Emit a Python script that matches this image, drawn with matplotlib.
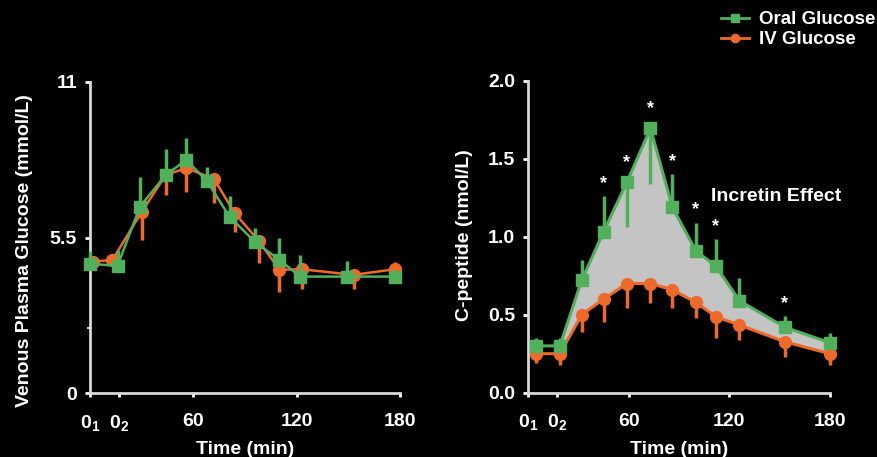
import matplotlib
matplotlib.use("Agg")
import matplotlib.pyplot as plt
import numpy as np
from matplotlib.lines import Line2D

plt.rcParams['font.family'] = ['Liberation Sans', 'DejaVu Sans']
plt.rcParams['font.weight'] = 'bold'
plt.rcParams['mathtext.fontset'] = 'custom'
plt.rcParams['mathtext.rm'] = 'Liberation Sans:bold'
plt.rcParams['mathtext.bf'] = 'Liberation Sans:bold'

GREEN = "#52b05c"
ORANGE = "#ee6a2a"
FILL = "#c4c4c4"
AXC = "#d8d8d8"

# x tick positions / labels (0_1 and 0_2 are the two fasting samples)
tick_pos = [0, 17, 60, 120, 180]
tick_lab = [r'$0_1$', r'$0_2$', '60', '120', '180']

# --- left panel: venous plasma glucose (mmol/L)
t_glu_oral = [0, 16, 29, 44, 56, 68, 81, 96, 110, 122, 149, 177]
glu_oral = [4.57, 4.50, 6.59, 7.71, 8.24, 7.48, 6.24, 5.33, 4.71, 4.12, 4.12, 4.12]
glu_oral_up = [0.47, 0.56, 1.04, 0.92, 0.79, 0.51, 0.71, 0.52, 0.77, 0.77, 0.56, 0.20]
t_glu_iv = [2, 13, 30, 44, 56, 72, 84, 98, 110, 123, 153, 177]
glu_iv = [4.65, 4.71, 6.40, 7.71, 7.95, 7.57, 6.36, 5.38, 4.36, 4.38, 4.18, 4.38]
glu_iv_lo = [0.20, 0.20, 0.98, 0.71, 0.86, 0.84, 0.65, 0.79, 0.79, 0.71, 0.51, 0.10]
glu_iv_up = [0, 0, 0, 0, 0, 0, 0, 0, 0, 0, 0, 0.27]

# --- right panel: C-peptide (nmol/L)
t_cp = [5, 19, 32, 45, 59, 73, 86, 100, 112, 126, 153, 180]
cp_oral = [0.30, 0.30, 0.72, 1.03, 1.35, 1.695, 1.19, 0.91, 0.81, 0.59, 0.42, 0.32]
cp_oral_up = [0.05, 0.05, 0.13, 0.23, 0, 0, 0.21, 0.18, 0.175, 0.145, 0.07, 0.065]
cp_oral_lo = [0, 0, 0, 0, 0.29, 0.355, 0, 0, 0, 0, 0, 0]
cp_iv = [0.25, 0.25, 0.50, 0.60, 0.70, 0.70, 0.66, 0.58, 0.487, 0.434, 0.327, 0.25]
cp_iv_lo = [0.06, 0.07, 0.11, 0.145, 0.16, 0.127, 0.12, 0.103, 0.137, 0.094, 0.097, 0.07]
star_idx = [3, 4, 5, 6, 7, 8, 10]


def style_axes(ax):
    ax.set_facecolor("black")
    for s in ["top", "right"]:
        ax.spines[s].set_visible(False)
    for s in ["left", "bottom"]:
        ax.spines[s].set_color(AXC)
        ax.spines[s].set_linewidth(2)
    ax.tick_params(colors="white", width=2, labelsize=14, direction="out")
    ax.tick_params(axis="x", length=3, pad=11.5)
    ax.tick_params(axis="y", length=3.6, pad=5.8)
    ax.tick_params(axis="y", which="minor", width=1.5, length=2.5, color=AXC)
    ax.set_xlim(0, 180)
    ax.set_xticks(tick_pos)
    ax.set_xticklabels(tick_lab)
    for lab in ax.get_xticklabels() + ax.get_yticklabels():
        lab.set_fontweight("bold")
    ax.set_xlabel("Time (min)", color="white", fontsize=14, fontweight="bold", labelpad=5.5)


fig = plt.figure(figsize=(8.77, 4.57), dpi=100, facecolor="black")

# left panel
ax1 = fig.add_axes([90 / 877, 1 - 393.3 / 457, 310 / 877, 311.6 / 457])
style_axes(ax1)
ax1.set_ylim(0, 11)
ax1.set_yticks([0, 5.5, 11])
ax1.set_yticklabels(["0", "5.5", "11"])
ax1.set_yticks([2.3], minor=True)
ax1.errorbar(t_glu_iv, glu_iv, yerr=[glu_iv_lo, glu_iv_up], color=ORANGE, marker="o",
             ms=8.5, lw=1.8, elinewidth=2.5, capsize=0, clip_on=False, zorder=3)
ax1.errorbar(t_glu_oral, glu_oral, yerr=[np.zeros(len(glu_oral)), glu_oral_up], color=GREEN,
             marker="s", ms=9, lw=1.8, elinewidth=2.5, capsize=0, clip_on=False, zorder=4)
ax1.set_ylabel("Venous Plasma Glucose (mmol/L)", color="white", fontsize=14, fontweight="bold")
ax1.yaxis.set_label_coords(-0.184, 0.457)

# right panel
ax2 = fig.add_axes([528 / 877, 1 - 392.7 / 457, 302 / 877, 312 / 457])
style_axes(ax2)
ax2.set_ylim(0, 2)
ax2.set_yticks([0, 0.5, 1.0, 1.5, 2.0])
ax2.set_yticklabels(["0.0", "0.5", "1.0", "1.5", "2.0"])
ax2.fill_between(t_cp[1:], cp_iv[1:], cp_oral[1:], color=FILL, lw=0, zorder=1)
ax2.errorbar(t_cp, cp_iv, yerr=[cp_iv_lo, np.zeros(len(cp_iv))], color=ORANGE, marker="o",
             ms=8.5, lw=2.2, elinewidth=2.5, capsize=0, clip_on=False, zorder=3)
ax2.errorbar(t_cp, cp_oral, yerr=[cp_oral_lo, cp_oral_up], color=GREEN, marker="s",
             ms=9, lw=2.2, elinewidth=2.5, capsize=0, clip_on=False, zorder=4)
for i in star_idx:
    top = cp_oral[i] + cp_oral_up[i]
    off = 3 if cp_oral_up[i] > 0 else 8
    ax2.annotate("*", (t_cp[i], top), xytext=(0, off), textcoords="offset points",
                 ha="center", va="bottom", color="white", fontsize=13, fontweight="bold")
ax2.text(109, 1.26, "Incretin Effect", color="white", fontsize=14, fontweight="bold",
         va="center", ha="left")
ax2.set_ylabel("C-peptide (nmol/L)", color="white", fontsize=14, fontweight="bold")
ax2.yaxis.set_label_coords(-0.182, 0.505)

# legend
handles = [Line2D([], [], color=GREEN, marker="s", ms=6, lw=2),
           Line2D([], [], color=ORANGE, marker="o", ms=6, lw=2)]
leg = fig.legend(handles, ["Oral Glucose", "IV Glucose"], loc="upper left",
                 bbox_to_anchor=(710 / 877, 1.0), frameon=False, fontsize=13.5,
                 handlelength=1.5, handletextpad=0.5, labelspacing=0.15,
                 borderaxespad=0.2)
for txt in leg.get_texts():
    txt.set_color("white")
    txt.set_fontweight("bold")

fig.savefig("out.png", dpi=100, facecolor="black")
